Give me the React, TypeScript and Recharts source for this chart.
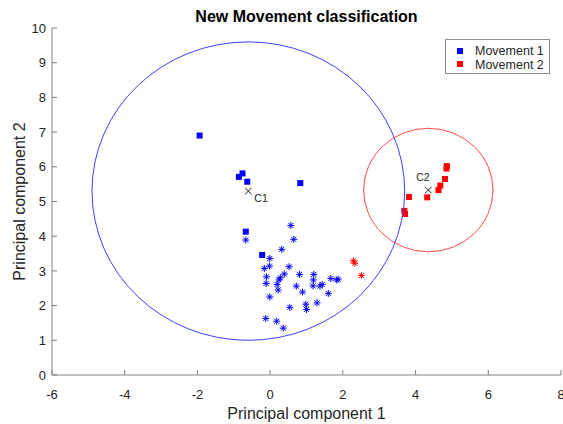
import { ComposedChart, Scatter, Line, XAxis, YAxis, Legend, Label } from "recharts";

const FONT = '"Liberation Sans", Arial, Helvetica, sans-serif';
const AXIS_GRAY = "#808080";
const TEXT_DARK = "#262626";

const xTicks = [-6, -4, -2, 0, 2, 4, 6, 8];
const yTicks = [0, 1, 2, 3, 4, 5, 6, 7, 8, 9, 10];

// training points (filled squares)
const m1TrainX = [-1.94, -0.86, -0.76, -0.63, 0.83, -0.67, -0.22];
const m1TrainY = [6.9, 5.71, 5.81, 5.57, 5.53, 4.13, 3.46];
const m2TrainX = [3.82, 4.32, 3.69, 3.71, 4.63, 4.68, 4.81, 4.86, 4.85];
const m2TrainY = [5.13, 5.12, 4.73, 4.64, 5.33, 5.46, 5.65, 6.02, 5.95];

// new points (asterisks), coloured by assigned class
const m1NewX = [
  -0.67, 0.57, 0.65, 0.32, -0.01, -0.02, -0.16, 0.52, -0.1, -0.11, 0.39, 0.28,
  0.24, 0.19, 0.22, 0.81, 1.2, 1.19, 1.18, 1.37, 1.43, 0.72, 0.89, 1.67, 1.83,
  1.87, 1.6, -0.01, 1.29, 0.98, 1.0, 0.54, -0.12, 0.18, 0.36,
];
const m1NewY = [
  3.89, 4.31, 3.91, 3.62, 3.36, 3.14, 3.07, 3.12, 2.83, 2.64, 2.91, 2.8, 2.74,
  2.61, 2.45, 2.9, 2.9, 2.74, 2.57, 2.56, 2.61, 2.56, 2.39, 2.78, 2.74, 2.76,
  2.35, 2.25, 2.08, 2.04, 1.89, 1.95, 1.63, 1.55, 1.35,
];
const m2NewX = [2.29, 2.33, 2.51];
const m2NewY = [3.29, 3.22, 2.87];

// cluster centroids and the radius drawn round each
const centroidNames = ["C1", "C2"];
const centroidX = [-0.6, 4.35];
const centroidY = [5.3, 5.33];
const clusterRadius = [4.3, 1.78];

const legendNames = ["Movement 1", "Movement 2"];
const classColors = ["#0000ff", "#ff0000"];
const ringColors = ["#4040ff", "#ff4a4a"];

// where each centroid name sits relative to its marker
const centroidLabelOffset: Record<string, { dx: number; dy: number; anchor: string }> = {
  C1: { dx: 6, dy: 11, anchor: "start" },
  C2: { dx: -12, dy: -9, anchor: "start" },
};

const zip = (xs: number[], ys: number[]) => xs.map((x, i) => ({ x, y: ys[i] }));

const m1Train = zip(m1TrainX, m1TrainY);
const m2Train = zip(m2TrainX, m2TrainY);
const m1New = zip(m1NewX, m1NewY);
const m2New = zip(m2NewX, m2NewY);
const centroids = centroidNames.map((name, i) => ({ name, x: centroidX[i], y: centroidY[i] }));
// center, a point one radius to the right, one radius up
const rings = centroidNames.map((_, i) => [
  { x: centroidX[i], y: centroidY[i] },
  { x: centroidX[i] + clusterRadius[i], y: centroidY[i] },
  { x: centroidX[i], y: centroidY[i] + clusterRadius[i] },
]);

const squareShape = (color: string) => (p: any) => (
  <rect x={p.cx - 3} y={p.cy - 3} width={6} height={6} fill={color} />
);

const asteriskShape = (color: string) => (p: any) => {
  const { cx, cy } = p;
  return (
    <g stroke={color} strokeWidth={1} fill="none">
      <line x1={cx - 3.5} y1={cy} x2={cx + 3.5} y2={cy} />
      <line x1={cx} y1={cy - 3.5} x2={cx} y2={cy + 3.5} />
      <line x1={cx - 2.5} y1={cy - 2.5} x2={cx + 2.5} y2={cy + 2.5} />
      <line x1={cx - 2.5} y1={cy + 2.5} x2={cx + 2.5} y2={cy - 2.5} />
    </g>
  );
};

const centroidShape = (p: any) => {
  const { cx, cy, payload } = p;
  const off = centroidLabelOffset[payload.name];
  return (
    <g>
      <g stroke="#222" strokeWidth={1}>
        <line x1={cx - 3.3} y1={cy - 3.3} x2={cx + 3.3} y2={cy + 3.3} />
        <line x1={cx - 3.3} y1={cy + 3.3} x2={cx + 3.3} y2={cy - 3.3} />
      </g>
      <text
        x={cx + off.dx}
        y={cy + off.dy}
        textAnchor={off.anchor}
        fontSize={10.5}
        fontFamily={FONT}
        fill={TEXT_DARK}
      >
        {payload.name}
      </text>
    </g>
  );
};

// draws the ring on the first point, sized from the other two through the axis scales
const ringDot = (color: string) => (p: any) => {
  const pts = p.points;
  if (p.index !== 0 || !pts || pts.length < 3) return <g key={`r-${p.index}`} />;
  const [c, ex, ey] = pts;
  return (
    <ellipse
      key={`r-${p.index}`}
      cx={c.x}
      cy={c.y}
      rx={Math.abs(ex.x - c.x)}
      ry={Math.abs(c.y - ey.y)}
      fill="none"
      stroke={color}
      strokeWidth={1}
    />
  );
};

const renderLegend = (props: any) => {
  const items = (props.payload || []).filter((e: any) => legendNames.includes(e.value));
  return (
    <div
      style={{
        position: "relative",
        width: 105,
        height: 35,
        boxSizing: "border-box",
        border: "1px solid #8c8c8c",
        background: "#fff",
        fontFamily: FONT,
        fontSize: 12.5,
        color: TEXT_DARK,
      }}
    >
      {items.map((e: any, i: number) => (
        <div
          key={e.value}
          style={{ position: "absolute", left: 0, top: 4 + i * 13.6, height: 14, width: 103 }}
        >
          <div
            style={{ position: "absolute", left: 10.5, top: 3.5, width: 6, height: 6, background: e.color }}
          />
          <div style={{ position: "absolute", left: 29, top: 0, lineHeight: "14px", whiteSpace: "nowrap" }}>
            {e.value}
          </div>
        </div>
      ))}
    </div>
  );
};

const yLabel = (props: any) => {
  const vb = props.viewBox;
  const x = 24.5;
  const y = vb.y + vb.height / 2;
  return (
    <text
      x={x}
      y={y}
      transform={`rotate(-90, ${x}, ${y})`}
      textAnchor="middle"
      fontSize={16}
      fontFamily={FONT}
      fill={TEXT_DARK}
    >
      Principal component 2
    </text>
  );
};

export default function App() {
  return (
    <div style={{ position: "absolute", left: 0, top: 0, width: 563, height: 424, background: "#fff" }}>
      <div
        style={{
          position: "absolute",
          left: 0,
          top: 9,
          width: 613,
          textAlign: "center",
          fontFamily: FONT,
          fontWeight: "bold",
          fontSize: 16,
          lineHeight: 1,
          color: "#000",
          zIndex: 2,
        }}
      >
        New Movement classification
      </div>
      <ComposedChart width={563} height={424} margin={{ top: 28, right: 2, bottom: 0, left: 0 }}>
        <XAxis
          type="number"
          dataKey="x"
          domain={[-6, 8]}
          ticks={xTicks}
          interval={0}
          allowDataOverflow
          height={49}
          stroke={AXIS_GRAY}
          tickSize={-5}
          tickMargin={20}
          tick={{ fontSize: 13, fill: TEXT_DARK, fontFamily: FONT }}
        >
          <Label
            value="Principal component 1"
            position="insideBottom"
            offset={5}
            fontSize={16}
            fontFamily={FONT}
            fill={TEXT_DARK}
          />
        </XAxis>
        <YAxis
          type="number"
          dataKey="y"
          domain={[0, 10]}
          ticks={yTicks}
          interval={0}
          allowDataOverflow
          width={52}
          stroke={AXIS_GRAY}
          tickSize={-5}
          tickMargin={11}
          tick={{ fontSize: 13, fill: TEXT_DARK, fontFamily: FONT }}
        >
          <Label content={yLabel} />
        </YAxis>
        <Legend
          layout="vertical"
          align="center"
          verticalAlign="middle"
          content={renderLegend}
          wrapperStyle={{ left: 445, top: 39, width: 105, height: 35 }}
        />
        {rings.map((ring, i) => (
          <Line
            key={centroidNames[i]}
            data={ring}
            dataKey="y"
            stroke="none"
            dot={ringDot(ringColors[i])}
            activeDot={false}
            legendType="none"
            isAnimationActive={false}
          />
        ))}
        <Scatter
          name={legendNames[0]}
          data={m1Train}
          dataKey="y"
          fill={classColors[0]}
          shape={squareShape(classColors[0])}
          isAnimationActive={false}
        />
        <Scatter
          name={legendNames[1]}
          data={m2Train}
          dataKey="y"
          fill={classColors[1]}
          shape={squareShape(classColors[1])}
          isAnimationActive={false}
        />
        <Scatter
          name="new 1"
          data={m1New}
          dataKey="y"
          fill={classColors[0]}
          shape={asteriskShape(classColors[0])}
          legendType="none"
          isAnimationActive={false}
        />
        <Scatter
          name="new 2"
          data={m2New}
          dataKey="y"
          fill={classColors[1]}
          shape={asteriskShape(classColors[1])}
          legendType="none"
          isAnimationActive={false}
        />
        <Scatter
          name="centroids"
          data={centroids}
          dataKey="y"
          fill="#222"
          shape={centroidShape}
          legendType="none"
          isAnimationActive={false}
        />
      </ComposedChart>
    </div>
  );
}
